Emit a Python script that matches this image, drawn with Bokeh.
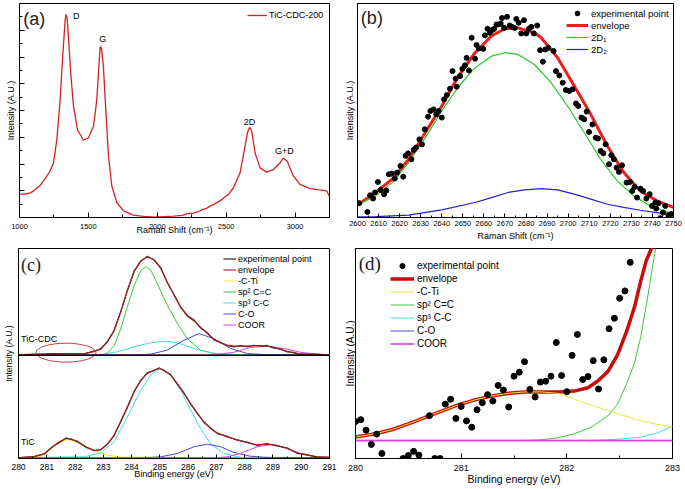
from bokeh.plotting import figure
from bokeh.layouts import column, row
from bokeh.models import FixedTicker, Legend, LegendItem, Span, Label
from bokeh.core.properties import value
from bokeh.embed import file_html
from bokeh.resources import INLINE

FONT = "Liberation Sans"
SERIF = "Liberation Serif"

# ---------------- (a) Raman spectrum ----------------
a_x = [1000, 1050, 1080, 1110, 1150, 1190, 1220, 1247, 1271, 1295, 1315, 1331, 1338, 1345, 1355, 1372,
       1392, 1421, 1464, 1500, 1537, 1561, 1573, 1585, 1590, 1597, 1609, 1629, 1646, 1670, 1706, 1755,
       1827, 1900, 1980, 2050, 2120, 2180, 2220, 2260, 2300, 2330, 2350, 2380, 2420, 2460, 2490, 2520,
       2553, 2601, 2637, 2654, 2669, 2678, 2686, 2710, 2746, 2794, 2843, 2891, 2915, 2944, 2988, 3036,
       3109, 3160, 3206, 3230, 3250]
a_y = [10.8, 11.1, 11.5, 12.8, 15.0, 18.5, 21.5, 25.5, 36.4, 55.0, 76.6, 92.1, 94.9, 93.5, 84.4, 67.3,
       51.9, 41.0, 36.1, 37.2, 42.6, 55.0, 67.3, 79.4, 79.8, 78.2, 70.4, 47.2, 28.6, 14.7, 7.0, 3.1,
       1.1, 0.5, 0.2, 0.4, 0.6, 1.0, 1.8, 2.0, 2.8, 3.8, 4.0, 5.2, 6.5, 8.0, 9.5, 11.0,
       13.9, 20.9, 33.3, 39.5, 42.1, 41.6, 40.2, 30.2, 23.2, 21.2, 22.4, 25.5, 27.7, 26.3, 19.3, 15.5,
       13.5, 13.0, 12.7, 12.4, 9.8]
a_peak_x = [1411, 1605, 2669, 2923]
a_peak_y = [94.1, 83.3, 44.6, 31.0]
a_peak_txt = ["D", "G", "2D", "G+D"]
a_xticks = [1000, 1500, 2000, 2500, 3000]
a_xminor = [1250, 1750, 2250, 2750, 3250]
a_yticks = [0, 12.5, 25, 37.5, 50, 62.5, 75, 87.5, 100]
a_yminor = [6.25, 18.75, 31.25, 43.75, 56.25, 68.75, 81.25, 93.75]

# ---------------- (b) 2D band fit ----------------
b_pts_x = [2600.8, 2604.7, 2606.0, 2607.4, 2608.3, 2609.7, 2611.0, 2612.6, 2613.7, 2614.9, 2616.2, 2617.7,
           2618.8, 2620.4, 2621.7, 2622.8, 2624.0, 2625.6, 2626.7, 2627.8, 2629.4, 2630.6, 2631.9, 2633.5,
           2634.6, 2636.1, 2637.4, 2638.5, 2640.0, 2641.1, 2642.4, 2643.9, 2645.1, 2646.6, 2647.1, 2648.7,
           2649.8, 2651.0, 2651.8, 2652.9, 2654.2, 2655.8, 2656.5, 2657.6, 2659.7, 2660.5, 2661.7, 2662.8,
           2663.9, 2664.9, 2666.0, 2666.8, 2668.0, 2668.6, 2669.6, 2671.0, 2672.2, 2673.3, 2674.6, 2675.4,
           2676.5, 2677.7, 2679.0, 2680.1, 2681.4, 2682.5, 2683.7, 2685.3, 2686.7, 2688.0, 2689.1, 2690.6,
           2693.1, 2694.2, 2695.8, 2697.4, 2698.9, 2700.5, 2702.1, 2703.7, 2704.8, 2706.3, 2707.6, 2708.8,
           2709.9, 2711.5, 2713.1, 2714.2, 2715.4, 2716.7, 2717.8, 2719.4, 2720.5, 2721.7, 2723.0, 2724.1,
           2725.6, 2727.7, 2729.3, 2730.4, 2731.5, 2732.7, 2734.3, 2735.5, 2737.1, 2738.7, 2739.8, 2741.4,
           2741.8, 2742.9, 2743.7, 2745.0, 2746.1, 2747.6, 2748.9]
b_pts_y = [6.7, 2.6, 10.4, 8.9, 11.7, 16.6, 12.9, 10.9, 12.6, 20.2, 20.5, 18.2,
           21.0, 24.1, 19.1, 28.8, 30.0, 27.2, 31.6, 32.7, 36.5, 34.2, 41.2, 47.1,
           49.8, 50.5, 48.2, 49.8, 46.7, 55.2, 57.2, 60.2, 68.4, 64.9, 61.1, 66.1,
           69.5, 71.1, 74.6, 68.7, 84.0, 74.2, 80.6, 79.0, 78.8, 85.1, 88.2, 86.3,
           87.6, 88.2, 90.2, 90.2, 90.5, 93.2, 88.6, 93.8, 89.7, 89.1, 88.6, 92.8,
           91.0, 86.0, 92.2, 86.0, 88.2, 89.1, 86.0, 89.7, 78.2, 72.8, 78.5, 79.3,
           77.8, 68.4, 66.4, 63.0, 59.6, 59.1, 59.9, 53.3, 52.1, 46.7, 45.9, 49.5,
           40.0, 43.5, 37.3, 36.9, 31.1, 30.0, 34.2, 24.9, 29.1, 27.2, 23.3, 21.3,
           24.4, 16.3, 16.6, 12.4, 14.3, 9.3, 13.5, 12.4, 8.9, 10.9, 5.4, 7.0,
           4.2, 6.7, -0.3, 2.3, 5.4, 1.1, 1.6]
b_env_x = [2600, 2608.6, 2616.5, 2624.3, 2632.2, 2640, 2647.9, 2655.8, 2663.6, 2669.9, 2676.2, 2684,
           2687.2, 2695, 2702.9, 2710.7, 2718.6, 2726.4, 2734.3, 2742.1, 2750]
b_env_y = [5.8, 11.7, 17.9, 27.2, 39.7, 52.1, 66.1, 77.0, 84.8, 88.2, 88.6, 86.3,
           84.0, 74.6, 61.4, 48.2, 33.4, 21.0, 12.4, 7.8, 4.7]
b_2d1_x = [2600, 2608.6, 2616.5, 2624.3, 2632.2, 2640, 2647.9, 2655.8, 2663.6, 2669.9, 2676.2, 2684,
           2691.9, 2699.7, 2707.6, 2715.4, 2723.3, 2731.1, 2739, 2746.9, 2750]
b_2d1_y = [5.8, 10.1, 16.3, 25.7, 37.3, 49.8, 61.1, 70.0, 75.4, 77.0, 76.2, 71.5,
           63.0, 52.1, 39.7, 27.2, 17.1, 10.1, 5.4, 2.6, 2.0]
b_2d2_x = [2600, 2608.6, 2624.3, 2640, 2655.8, 2663.6, 2671.5, 2679.4, 2687.2, 2695, 2702.9, 2710.7,
           2718.6, 2726.4, 2734.3, 2742.1, 2750]
b_2d2_y = [0.3, 0.4, 1.1, 3.6, 7.0, 9.3, 11.7, 12.9, 13.5, 12.9, 10.9, 8.6,
           6.2, 4.7, 3.4, 2.3, 1.1]
b_xticks = list(range(2600, 2751, 10))
b_xminor = list(range(2605, 2750, 10))

# ---------------- (c) XPS C1s ----------------
c_up_x = [280, 281.15, 282.33, 282.68, 282.91, 283.15, 283.38, 283.62, 283.85, 284.09, 284.32, 284.56,
          284.79, 285.03, 285.26, 285.5, 285.74, 285.97, 286.21, 286.44, 286.68, 286.91, 287.15, 287.38,
          287.62, 287.85, 288.09, 288.32, 288.56, 288.79, 289.03, 289.26, 289.5, 289.73, 289.97, 290.55, 291]
c_up_env = [49.5, 49.7, 50.0, 50.8, 52.4, 55.6, 61.1, 69.8, 80.2, 88.9, 94.1, 96.0,
            94.8, 90.5, 84.1, 77.8, 72.2, 67.8, 65.5, 62.5, 59.5, 56.8, 55.0, 54.0,
            53.5, 53.5, 53.5, 53.7, 53.8, 53.5, 52.9, 51.9, 51.1, 50.3, 49.8, 49.5, 49.4]
c_up_exp = [49.3, 49.9, 49.8, 51.2, 52.0, 55.9, 60.7, 70.2, 79.8, 89.3, 93.8, 96.3,
            94.5, 90.9, 83.8, 78.1, 71.9, 68.1, 65.9, 62.2, 59.9, 56.5, 55.3, 53.7,
            53.2, 53.8, 53.3, 53.9, 53.5, 53.8, 52.6, 52.2, 50.8, 50.5, 49.6, 49.7, 49.2]
c_up_cti_x = [280, 281.0, 281.7, 282.4, 283.2, 291]
c_up_cti_y = [49.4, 49.5, 49.8, 49.6, 49.4, 49.4]
c_up_sp2_x = [280, 283.0, 283.15, 283.38, 283.62, 283.85, 284.09, 284.32, 284.5, 284.68, 284.91, 285.26,
              285.62, 285.97, 286.44, 287.03, 288.0, 291]
c_up_sp2_y = [49.5, 49.6, 50.3, 53.5, 61.9, 72.2, 82.5, 89.4, 91.3, 89.7, 83.3, 73.0,
              64.3, 57.1, 51.6, 49.7, 49.5, 49.5]
c_up_sp3_x = [280, 282.91, 283.5, 284.09, 284.68, 285.15, 285.62, 286.2, 286.79, 287.6, 291]
c_up_sp3_y = [49.5, 49.5, 50.8, 53.2, 55.1, 55.9, 55.1, 52.4, 50.3, 49.5, 49.5]
c_up_co_x = [280, 284.2, 284.68, 285.26, 285.85, 286.38, 286.91, 287.5, 288.09, 288.79, 291]
c_up_co_y = [49.4, 49.4, 49.7, 51.6, 56.3, 59.5, 57.1, 52.4, 50.0, 49.4, 49.4]
c_up_coor_x = [280, 286.5, 287.03, 287.62, 288.2, 288.79, 289.38, 289.97, 290.55, 291]
c_up_coor_y = [49.3, 49.3, 49.5, 50.6, 52.9, 53.5, 52.4, 50.6, 49.7, 49.4]

c_lo_x = [280, 280.56, 280.92, 281.15, 281.39, 281.68, 281.86, 282.09, 282.39, 282.68,
          282.91, 283.15, 283.38, 283.62, 283.85, 284.09, 284.32, 284.56, 284.79, 284.97,
          285.15, 285.38, 285.62, 285.85, 286.09, 286.32, 286.56, 286.79, 287.03, 287.38,
          287.73, 288.09, 288.44, 288.79, 289.14, 289.5, 289.85, 290.2, 290.55, 291]
c_lo_env = [0.5, 0.8, 2.4, 4.8, 7.5, 9.5, 9.4, 7.9, 5.6, 3.7,
            4.3, 6.8, 11.1, 17.5, 24.6, 31.7, 37.3, 40.5, 42.1, 42.9,
            42.1, 39.7, 35.7, 31.0, 26.2, 21.4, 17.5, 14.3, 12.2, 10.3,
            9.0, 7.5, 6.5, 6.8, 6.3, 4.8, 2.7, 1.6, 0.8, 0.5]
c_lo_exp = [0.3, 1.0, 2.2, 5.1, 7.2, 9.8, 9.1, 8.2, 5.3, 3.9,
            4.1, 7.0, 10.8, 17.9, 24.2, 32.0, 37.0, 40.9, 41.8, 43.2,
            41.8, 40.0, 35.4, 31.3, 25.9, 21.7, 17.2, 14.6, 11.9, 10.6,
            8.7, 7.8, 6.2, 7.1, 6.0, 5.1, 2.5, 1.8, 0.6, 0.6]
c_lo_cti_x = [280, 280.56, 280.92, 281.27, 281.74, 282.21, 282.68, 283.15, 283.62, 291]
c_lo_cti_y = [0.4, 0.5, 1.9, 6.3, 9.2, 6.8, 3.7, 1.6, 0.6, 0.4]
c_lo_sp2_x = [280, 291]
c_lo_sp2_y = [0.4, 0.4]
c_lo_sp3_x = [280, 282.33, 282.91, 283.38, 283.85, 284.32, 284.68, 285.01, 285.38, 285.74, 286.09,
              286.44, 286.79, 287.26, 287.85, 291]
c_lo_sp3_y = [0.4, 0.8, 2.7, 7.9, 19.8, 32.5, 39.7, 42.9, 39.7, 32.5, 23.0,
              14.3, 7.1, 2.4, 0.6, 0.4]
c_lo_co_x = [280, 284.5, 285.03, 285.62, 286.21, 286.68, 287.15, 287.62, 288.2, 288.79, 291]
c_lo_co_y = [0.4, 0.4, 0.8, 2.4, 5.6, 6.8, 5.6, 2.9, 1.1, 0.5, 0.4]
c_lo_coor_x = [280, 287.0, 287.38, 287.85, 288.44, 288.97, 289.5, 289.97, 290.55, 291]
c_lo_coor_y = [0.4, 0.4, 0.8, 2.4, 5.6, 6.7, 4.8, 2.4, 0.8, 0.5]
c_divider = 49.2
c_ellipse = dict(x=281.68, y=50.4, w=2.12, h=9.0)
c_names_x = [280.09, 280.09]
c_names_y = [57.1, 7.9]
c_names = ["TiC-CDC", "TiC"]
c_xticks = list(range(280, 292))
c_xminor = [280.5 + i for i in range(11)]

# ---------------- (d) zoom on C-Ti region ----------------
d_pts_x = [280.0, 280.05, 280.1, 280.15, 280.2, 280.25, 280.45, 280.5, 280.55, 280.6,
           280.7, 280.75, 280.8, 280.85, 280.9, 280.95, 281.0, 281.05, 281.1, 281.15,
           281.2, 281.25, 281.3, 281.35, 281.4, 281.45, 281.5, 281.55, 281.6, 281.65,
           281.7, 281.75, 281.8, 281.85, 281.9, 281.95, 282.0, 282.05, 282.1, 282.15,
           282.2, 282.25, 282.3, 282.35, 282.4, 282.45, 282.5, 282.55, 282.6]
d_pts_y = [17.6, 18.5, 13.5, 6.7, 11.6, 2.4, 0.0, 1.4, 3.4, 1.6,
           20.4, 0.0, 0.0, 25.9, 28.2, 19.1, 24.8, 17.9, 14.9, 23.2,
           26.6, 30.4, 27.4, 34.8, 32.6, 24.5, 39.2, 41.1, 46.1, 32.9,
           29.3, 36.4, 36.8, 39.2, 55.2, 39.5, 31.8, 49.1, 59.1, 37.6,
           39.0, 46.6, 33.1, 47.0, 61.8, 66.8, 76.3, 79.8, 93.4]
d_env_x = [280.0, 280.19, 280.35, 280.5, 280.66, 280.82, 280.97, 281.13, 281.29, 281.44, 281.6, 281.76,
           281.92, 282.07, 282.2, 282.29, 282.39, 282.48, 282.57, 282.64, 282.7, 282.75, 282.8, 282.86]
d_env_y = [10.2, 11.8, 13.8, 16.5, 19.6, 22.7, 25.5, 27.9, 29.8, 31.0, 31.7, 31.7,
           31.7, 32.1, 33.7, 36.8, 41.5, 49.4, 61.1, 72.1, 84.6, 94.0, 100.0, 111.0]
d_cti_x = [280.0, 280.19, 280.35, 280.5, 280.66, 280.82, 280.97, 281.13, 281.29, 281.44, 281.6, 281.76,
           281.92, 282.07, 282.23, 282.39, 282.54, 282.7, 282.86, 283.0]
d_cti_y = [10.2, 11.8, 13.8, 16.5, 19.6, 22.7, 25.5, 27.9, 29.8, 31.0, 31.7, 31.7,
           31.0, 28.2, 25.5, 22.7, 20.4, 18.0, 16.2, 15.2]
d_sp2_x = [280, 281.6, 281.76, 281.92, 282.07, 282.23, 282.39, 282.48, 282.57, 282.64, 282.7, 282.76,
           282.81, 282.84, 282.9]
d_sp2_y = [8.6, 8.6, 8.9, 9.9, 11.8, 14.9, 20.4, 25.9, 36.1, 45.5, 58.0, 75.2,
           90.9, 100.0, 115.0]
d_sp3_x = [280, 282.2, 282.39, 282.54, 282.7, 282.86, 283.0]
d_sp3_y = [8.6, 8.6, 8.9, 9.4, 10.2, 12.2, 15.4]
d_co_x = [280, 283]
d_co_y = [8.6, 8.6]
d_coor_x = [280, 283]
d_coor_y = [8.5, 8.5]
d_xticks = [280, 281, 282, 283]
d_xminor = [280.5, 281.5, 282.5]

C_TI = "#e6e63c"
SP2 = "#3cc83c"
SP3 = "#40dede"
CO = "#4848cc"
COOR = "#de40de"


def base_fig(w, h, xr, yr, bl, br, bt, bb):
    p = figure(width=w, height=h, x_range=xr, y_range=yr, output_backend="svg",
               toolbar_location=None, min_border_left=bl, min_border_right=br,
               min_border_top=bt, min_border_bottom=bb)
    p.grid.visible = False
    p.outline_line_color = "black"
    p.outline_line_width = 1
    p.outline_line_alpha = 1
    for ax in (p.xaxis[0], p.yaxis[0]):
        ax.axis_line_color = "black"
        ax.major_tick_line_color = "black"
        ax.minor_tick_line_color = "black"
        ax.major_label_text_font = FONT
        ax.major_label_text_color = "black"
        ax.axis_label_text_font = FONT
        ax.axis_label_text_color = "black"
        ax.axis_label_text_font_style = "normal"
        ax.major_tick_out = 0
        ax.minor_tick_out = 0
    return p


def blank_y(p, label, size, standoff, ticks=None, minor=None):
    ax = p.yaxis[0]
    ticks = ticks or []
    ax.ticker = FixedTicker(ticks=ticks, minor_ticks=minor or [])
    ax.major_label_overrides = {t: "" for t in ticks}
    ax.major_label_text_font_size = size
    ax.major_label_standoff = 0
    ax.major_tick_in = 5 if ticks else 0
    ax.minor_tick_in = 3 if minor else 0
    ax.axis_label = label
    ax.axis_label_text_font_size = size
    ax.axis_label_standoff = standoff


def set_x(p, ticks, minor, label, tsize, lsize, tstand, lstand, tin=5, min_in=3):
    ax = p.xaxis[0]
    ax.ticker = FixedTicker(ticks=ticks, minor_ticks=minor)
    ax.major_tick_in = tin
    ax.minor_tick_in = min_in
    ax.major_label_text_font_size = tsize
    ax.major_label_standoff = tstand
    ax.axis_label = label
    ax.axis_label_text_font_size = lsize
    ax.axis_label_standoff = lstand


def make_legend(items, loc, gw, gh, fsize, standoff):
    return Legend(items=[LegendItem(label=l, renderers=[r]) for l, r in items],
                  location=loc, glyph_width=gw, glyph_height=gh, label_height=gh, label_width=10,
                  spacing=0, padding=0, margin=0, label_standoff=standoff,
                  border_line_alpha=0, background_fill_alpha=0,
                  label_text_font=FONT, label_text_font_size=fsize, label_text_color="black")


# ---- panel a ----  frame: x 19-329, y 3-218
pa = base_fig(341, 243, (1000, 3250), (0, 100), 19, 12, 3, 25)
set_x(pa, a_xticks, a_xminor, "Raman Shift (cm\u207b\u00b9)", "7.5px", "9px", 6, -7)
blank_y(pa, "Intensity (A.U.)", "9px", 4, a_yticks, a_yminor)
ra = pa.line(a_x, a_y, line_color="#d42222", line_width=1.3)
pa.text(x=a_peak_x, y=a_peak_y, text=a_peak_txt, text_font=value(FONT), text_font_size="9px",
        text_align="center", text_baseline="middle", text_color="black")
pa.add_layout(Label(x=1027, y=92.6, text="(a)", text_font=FONT, text_font_size="18px",
                    text_baseline="middle", text_color="#222222"))
pa.add_layout(make_legend([("TiC-CDC-200", ra)], (228, 196), 20, 12, "9px", 2))

# ---- panel b ----  frame: x 355-673, y 3-218
pb = base_fig(343, 243, (2600, 2750), (0, 100), 14, 11, 3, 25)
set_x(pb, b_xticks, b_xminor, "Raman Shift (cm\u207b\u00b9)", "7.5px", "9px", 3, 2, 4, 2)
blank_y(pb, "Intensity (A.U.)", "9px", 3)
r_env = pb.line(b_env_x, b_env_y, line_color="#ee1c1c", line_width=3)
r_2d1 = pb.line(b_2d1_x, b_2d1_y, line_color="#22cc22", line_width=1.2)
r_2d2 = pb.line(b_2d2_x, b_2d2_y, line_color="#2222cc", line_width=1.2)
r_pts = pb.scatter(b_pts_x, b_pts_y, size=5, marker="circle", fill_color="black", line_color="black")
pb.add_layout(Label(x=2601.6, y=93.0, text="(b)", text_font=FONT, text_font_size="18px",
                    text_baseline="middle", text_color="#222222"))
pb.add_layout(make_legend([("experimental point", r_pts), ("envelope", r_env),
                           ("2D\u2081", r_2d1), ("2D\u2082", r_2d2)], (209, 162), 22, 12, "9.5px", 3))

# ---- panel c ----  frame: x 17-329, y 248-458
pc = base_fig(341, 245, (280, 291), (0, 100), 17, 12, 5, 30)
set_x(pc, c_xticks, c_xminor, "Binding energy (eV)", "8.5px", "9px", 5, -4, 4, 2)
blank_y(pc, "Intensity (A.U.)", "8.5px", 5)
for xs, ys, col in [(c_lo_cti_x, c_lo_cti_y, C_TI), (c_lo_sp2_x, c_lo_sp2_y, SP2),
                    (c_lo_sp3_x, c_lo_sp3_y, SP3), (c_lo_co_x, c_lo_co_y, CO),
                    (c_lo_coor_x, c_lo_coor_y, COOR)]:
    pc.line(xs, ys, line_color=col, line_width=1)
rc_cti = pc.line(c_up_cti_x, c_up_cti_y, line_color=C_TI, line_width=1)
rc_sp2 = pc.line(c_up_sp2_x, c_up_sp2_y, line_color=SP2, line_width=1)
rc_sp3 = pc.line(c_up_sp3_x, c_up_sp3_y, line_color=SP3, line_width=1)
rc_co = pc.line(c_up_co_x, c_up_co_y, line_color=CO, line_width=1)
rc_coor = pc.line(c_up_coor_x, c_up_coor_y, line_color=COOR, line_width=1)
rc_exp = pc.line(c_up_x, c_up_exp, line_color="#3a3a3a", line_width=1.3)
pc.line(c_lo_x, c_lo_exp, line_color="#3a3a3a", line_width=1.3)
rc_env = pc.line(c_up_x, c_up_env, line_color="#a81c1c", line_width=1.1)
pc.line(c_lo_x, c_lo_env, line_color="#a81c1c", line_width=1.1)
pc.add_layout(Span(location=c_divider, dimension="width", line_color="black", line_width=1.5))
pc.ellipse(x=[c_ellipse["x"]], y=[c_ellipse["y"]], width=[c_ellipse["w"]], height=[c_ellipse["h"]],
           fill_alpha=0, line_color="#c84040", line_width=1)
pc.text(x=c_names_x, y=c_names_y, text=c_names, text_font=value(FONT), text_font_size="9px",
        text_align="left", text_baseline="middle", text_color="black")
pc.add_layout(Label(x=280.09, y=92.1, text="(c)", text_font=SERIF, text_font_size="18px",
                    text_baseline="middle", text_color="#222222"))
pc.add_layout(make_legend([("experimental point", rc_exp), ("envelope", rc_env), ("-C-Ti", rc_cti),
                           ("sp\u00b2 C=C", rc_sp2), ("sp\u00b3 C-C", rc_sp3), ("C-O", rc_co),
                           ("COOR", rc_coor)], (205, 128), 13, 11, "9px", 2))

# ---- panel d ----  frame: x 353-672, y 247-461
pd_ = base_fig(343, 245, (280, 283), (0, 100), 12, 12, 4, 27)
set_x(pd_, d_xticks, d_xminor, "Binding energy (eV)", "9px", "10.5px", 6, -1)
blank_y(pd_, "Intensity (A.U.)", "10px", 0)
rd_sp3 = pd_.line(d_sp3_x, d_sp3_y, line_color=SP3, line_width=1)
rd_sp2 = pd_.line(d_sp2_x, d_sp2_y, line_color=SP2, line_width=1)
rd_co = pd_.line(d_co_x, d_co_y, line_color=CO, line_width=1)
rd_coor = pd_.line(d_coor_x, d_coor_y, line_color=COOR, line_width=1.6)
rd_env = pd_.line(d_env_x, d_env_y, line_color="#c80c0c", line_width=3.5)
rd_cti = pd_.line(d_cti_x, d_cti_y, line_color=C_TI, line_width=1)
rd_pts = pd_.scatter(d_pts_x, d_pts_y, size=6, marker="circle", fill_color="black", line_color="black")
pd_.add_layout(Label(x=280.03, y=92.9, text="(d)", text_font=SERIF, text_font_size="19px",
                     text_baseline="middle", text_color="#222222"))
pd_.add_layout(make_legend([("experimental point", rd_pts), ("envelope", rd_env), ("-C-Ti", rd_cti),
                            ("sp\u00b2 C=C", rd_sp2), ("sp\u00b3 C-C", rd_sp3), ("C-O", rd_co),
                            ("COOR", rd_coor)], (35, 108), 24, 13, "10px", 3))

layout = column(row(pa, pb), row(pc, pd_))
open("out.html", "w").write(file_html(layout, INLINE))
